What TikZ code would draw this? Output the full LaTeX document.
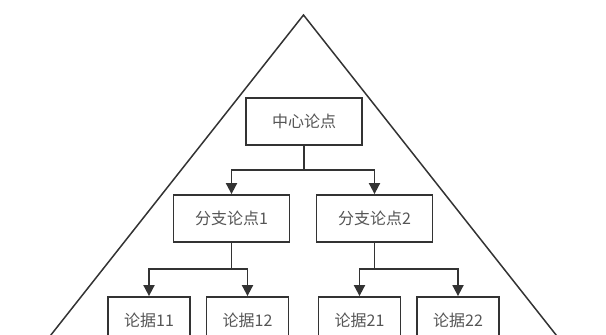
\documentclass[tikz,border=0pt]{standalone}
\usepackage{fontspec}
\setmainfont{Noto Sans CJK SC}
\usepackage{tikz}
\usetikzlibrary{arrows.meta}
\definecolor{lineGray}{HTML}{333333}
\definecolor{textGray}{HTML}{555555}
\tikzset{
plain box node/.style={draw=lineGray, line width=1.8pt, fill=white, inner sep=0,
  text=textGray, font=\fontsize{16}{18}\selectfont},
point box node/.style={plain box node, minimum width=116pt, minimum height=47pt},
proof box node/.style={plain box node, minimum width=82pt, minimum height=47pt},
%
%
tree arrow/.style={draw=lineGray, line width=1.8pt, -{Triangle[length=11pt,width=11pt]}},
pyramid/.style={draw=lineGray, line width=1.5pt},
}
\begin{document}
\begin{tikzpicture}[x=1pt,y=-1pt]
        \useasboundingbox (0,0) rectangle (606,335);
        \clip (0,0) rectangle (606,335);
        \coordinate (apex) at (303.5,15);
        \coordinate (baseL) at (43,345);
        \coordinate (baseR) at (564,345);
        \draw[pyramid] (baseL) -- (apex) -- (baseR);
        \node[point box node] (center) at (304,121.5) {中心论点};
        \node[point box node] (branch1) at (231.5,218.5) {分支论点1};
        \node[point box node] (branch2) at (374.5,218.5) {分支论点2};
        \foreach \n/\x in {11/149,12/247.5,21/359.5,22/458}  {
            \node[proof box node] (proof\n) at (\x,320.5) {论据\n};
        }
        \draw[tree arrow] (center.south) -- ++(0,24) -| (branch1.north);
        \draw[tree arrow] (center.south) -- ++(0,24) -| (branch2.north);
        \draw[tree arrow] (branch1.south) -- ++(0,26) -| (proof11.north);
        \draw[tree arrow] (branch1.south) -- ++(0,26) -| (proof12.north);
        \draw[tree arrow] (branch2.south) -- ++(0,26) -| (proof21.north);
        \draw[tree arrow] (branch2.south) -- ++(0,26) -| (proof22.north);
    \end{tikzpicture}
\end{document}
